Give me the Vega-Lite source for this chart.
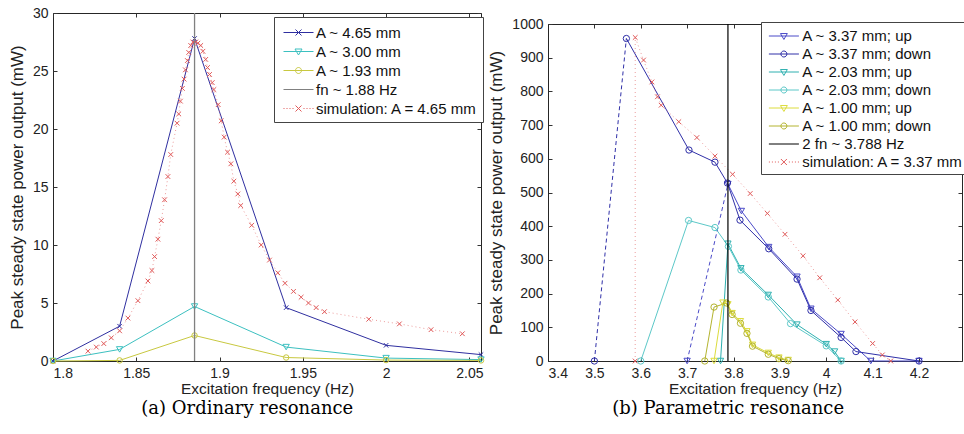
{
  "$schema": "https://vega.github.io/schema/vega-lite/v6.json",
  "background": "white",
  "padding": {"left": 7, "top": 5, "right": 0, "bottom": 0},
  "columns": 2,
  "align": "none",
  "spacing": 0,
  "datasets": {
    "L": [
      {"s": "A ~ 4.65 mm", "f": 1.8, "p": 0},
      {"s": "A ~ 4.65 mm", "f": 1.84, "p": 3.0},
      {"s": "A ~ 4.65 mm", "f": 1.885, "p": 27.8},
      {"s": "A ~ 4.65 mm", "f": 1.94, "p": 4.6},
      {"s": "A ~ 4.65 mm", "f": 2.0, "p": 1.35},
      {"s": "A ~ 4.65 mm", "f": 2.057, "p": 0.55},
      {"s": "A ~ 3.00 mm", "f": 1.8, "p": 0},
      {"s": "A ~ 3.00 mm", "f": 1.84, "p": 1.0},
      {"s": "A ~ 3.00 mm", "f": 1.885, "p": 4.7},
      {"s": "A ~ 3.00 mm", "f": 1.94, "p": 1.2},
      {"s": "A ~ 3.00 mm", "f": 2.0, "p": 0.25},
      {"s": "A ~ 3.00 mm", "f": 2.057, "p": 0.12},
      {"s": "A ~ 1.93 mm", "f": 1.8, "p": 0},
      {"s": "A ~ 1.93 mm", "f": 1.84, "p": 0.05},
      {"s": "A ~ 1.93 mm", "f": 1.885, "p": 2.2},
      {"s": "A ~ 1.93 mm", "f": 1.94, "p": 0.3},
      {"s": "A ~ 1.93 mm", "f": 2.0, "p": 0.08},
      {"s": "A ~ 1.93 mm", "f": 2.057, "p": 0.05}
    ],
    "Ls": [
      {"s": "simulation: A = 4.65 mm", "f": 1.821, "p": 0.85},
      {"s": "simulation: A = 4.65 mm", "f": 1.826, "p": 1.2},
      {"s": "simulation: A = 4.65 mm", "f": 1.8305, "p": 1.5},
      {"s": "simulation: A = 4.65 mm", "f": 1.835, "p": 2.0},
      {"s": "simulation: A = 4.65 mm", "f": 1.84, "p": 2.6},
      {"s": "simulation: A = 4.65 mm", "f": 1.845, "p": 3.7},
      {"s": "simulation: A = 4.65 mm", "f": 1.851, "p": 5.2},
      {"s": "simulation: A = 4.65 mm", "f": 1.857, "p": 6.9},
      {"s": "simulation: A = 4.65 mm", "f": 1.8594, "p": 7.8},
      {"s": "simulation: A = 4.65 mm", "f": 1.861, "p": 9.0},
      {"s": "simulation: A = 4.65 mm", "f": 1.863, "p": 10.5},
      {"s": "simulation: A = 4.65 mm", "f": 1.865, "p": 12.1},
      {"s": "simulation: A = 4.65 mm", "f": 1.867, "p": 13.9},
      {"s": "simulation: A = 4.65 mm", "f": 1.869, "p": 15.9},
      {"s": "simulation: A = 4.65 mm", "f": 1.8707, "p": 17.8},
      {"s": "simulation: A = 4.65 mm", "f": 1.8745, "p": 20.5},
      {"s": "simulation: A = 4.65 mm", "f": 1.8755, "p": 21.3},
      {"s": "simulation: A = 4.65 mm", "f": 1.8765, "p": 22.4},
      {"s": "simulation: A = 4.65 mm", "f": 1.8777, "p": 23.5},
      {"s": "simulation: A = 4.65 mm", "f": 1.8787, "p": 24.3},
      {"s": "simulation: A = 4.65 mm", "f": 1.8795, "p": 25.1},
      {"s": "simulation: A = 4.65 mm", "f": 1.8807, "p": 25.9},
      {"s": "simulation: A = 4.65 mm", "f": 1.8815, "p": 26.6},
      {"s": "simulation: A = 4.65 mm", "f": 1.8827, "p": 27.2},
      {"s": "simulation: A = 4.65 mm", "f": 1.884, "p": 27.5},
      {"s": "simulation: A = 4.65 mm", "f": 1.8857, "p": 27.5},
      {"s": "simulation: A = 4.65 mm", "f": 1.887, "p": 27.4},
      {"s": "simulation: A = 4.65 mm", "f": 1.8887, "p": 27.2},
      {"s": "simulation: A = 4.65 mm", "f": 1.89, "p": 26.7},
      {"s": "simulation: A = 4.65 mm", "f": 1.8917, "p": 26.0},
      {"s": "simulation: A = 4.65 mm", "f": 1.8928, "p": 25.3},
      {"s": "simulation: A = 4.65 mm", "f": 1.894, "p": 24.7},
      {"s": "simulation: A = 4.65 mm", "f": 1.8956, "p": 24.0},
      {"s": "simulation: A = 4.65 mm", "f": 1.8966, "p": 23.4},
      {"s": "simulation: A = 4.65 mm", "f": 1.8992, "p": 22.1},
      {"s": "simulation: A = 4.65 mm", "f": 1.901, "p": 20.7},
      {"s": "simulation: A = 4.65 mm", "f": 1.9028, "p": 19.3},
      {"s": "simulation: A = 4.65 mm", "f": 1.9048, "p": 18.0},
      {"s": "simulation: A = 4.65 mm", "f": 1.9068, "p": 17.0},
      {"s": "simulation: A = 4.65 mm", "f": 1.9086, "p": 15.5},
      {"s": "simulation: A = 4.65 mm", "f": 1.911, "p": 14.4},
      {"s": "simulation: A = 4.65 mm", "f": 1.9127, "p": 13.4},
      {"s": "simulation: A = 4.65 mm", "f": 1.9193, "p": 11.7},
      {"s": "simulation: A = 4.65 mm", "f": 1.925, "p": 10.0},
      {"s": "simulation: A = 4.65 mm", "f": 1.93, "p": 8.7},
      {"s": "simulation: A = 4.65 mm", "f": 1.935, "p": 7.6},
      {"s": "simulation: A = 4.65 mm", "f": 1.9393, "p": 6.7},
      {"s": "simulation: A = 4.65 mm", "f": 1.9444, "p": 6.0},
      {"s": "simulation: A = 4.65 mm", "f": 1.949, "p": 5.5},
      {"s": "simulation: A = 4.65 mm", "f": 1.9534, "p": 5.0},
      {"s": "simulation: A = 4.65 mm", "f": 1.958, "p": 4.6},
      {"s": "simulation: A = 4.65 mm", "f": 1.963, "p": 4.25},
      {"s": "simulation: A = 4.65 mm", "f": 1.9896, "p": 3.6},
      {"s": "simulation: A = 4.65 mm", "f": 2.008, "p": 3.2},
      {"s": "simulation: A = 4.65 mm", "f": 2.027, "p": 2.7},
      {"s": "simulation: A = 4.65 mm", "f": 2.0458, "p": 2.35}
    ],
    "R": [
      {"s": "A ~ 3.37 mm; up", "run": 2, "f": 3.7, "p": 0},
      {"s": "A ~ 3.37 mm; up", "run": 1, "f": 3.788, "p": 525},
      {"s": "A ~ 3.37 mm; up", "run": 1, "f": 3.817, "p": 445},
      {"s": "A ~ 3.37 mm; up", "run": 1, "f": 3.876, "p": 338},
      {"s": "A ~ 3.37 mm; up", "run": 1, "f": 3.937, "p": 250},
      {"s": "A ~ 3.37 mm; up", "run": 1, "f": 3.967, "p": 155},
      {"s": "A ~ 3.37 mm; up", "run": 1, "f": 4.032, "p": 80},
      {"s": "A ~ 3.37 mm; up", "run": 1, "f": 4.096, "p": 0},
      {"s": "A ~ 3.37 mm; up", "run": 1, "f": 4.2, "p": 0},
      {"s": "A ~ 3.37 mm; down", "run": 2, "f": 3.5, "p": 0},
      {"s": "A ~ 3.37 mm; down", "run": 1, "f": 3.569, "p": 957},
      {"s": "A ~ 3.37 mm; down", "run": 1, "f": 3.704, "p": 626},
      {"s": "A ~ 3.37 mm; down", "run": 1, "f": 3.76, "p": 590},
      {"s": "A ~ 3.37 mm; down", "run": 1, "f": 3.787, "p": 528},
      {"s": "A ~ 3.37 mm; down", "run": 1, "f": 3.814, "p": 418},
      {"s": "A ~ 3.37 mm; down", "run": 1, "f": 3.876, "p": 333},
      {"s": "A ~ 3.37 mm; down", "run": 1, "f": 3.937, "p": 243},
      {"s": "A ~ 3.37 mm; down", "run": 1, "f": 3.967, "p": 150},
      {"s": "A ~ 3.37 mm; down", "run": 1, "f": 4.032, "p": 70},
      {"s": "A ~ 3.37 mm; down", "run": 1, "f": 4.064, "p": 28},
      {"s": "A ~ 3.37 mm; down", "run": 1, "f": 4.2, "p": 0},
      {"s": "A ~ 2.03 mm; up", "run": 1, "f": 3.772, "p": 0},
      {"s": "A ~ 2.03 mm; up", "run": 1, "f": 3.788, "p": 348},
      {"s": "A ~ 2.03 mm; up", "run": 1, "f": 3.816, "p": 275},
      {"s": "A ~ 2.03 mm; up", "run": 1, "f": 3.875, "p": 196},
      {"s": "A ~ 2.03 mm; up", "run": 1, "f": 3.937, "p": 108},
      {"s": "A ~ 2.03 mm; up", "run": 1, "f": 4.0, "p": 50},
      {"s": "A ~ 2.03 mm; up", "run": 1, "f": 4.018, "p": 28},
      {"s": "A ~ 2.03 mm; up", "run": 1, "f": 4.032, "p": 0},
      {"s": "A ~ 2.03 mm; down", "run": 1, "f": 3.6, "p": 0},
      {"s": "A ~ 2.03 mm; down", "run": 1, "f": 3.703, "p": 417},
      {"s": "A ~ 2.03 mm; down", "run": 1, "f": 3.76, "p": 396},
      {"s": "A ~ 2.03 mm; down", "run": 1, "f": 3.789, "p": 340},
      {"s": "A ~ 2.03 mm; down", "run": 1, "f": 3.816, "p": 270},
      {"s": "A ~ 2.03 mm; down", "run": 1, "f": 3.875, "p": 190},
      {"s": "A ~ 2.03 mm; down", "run": 1, "f": 3.923, "p": 111},
      {"s": "A ~ 2.03 mm; down", "run": 1, "f": 4.0, "p": 45},
      {"s": "A ~ 2.03 mm; down", "run": 1, "f": 4.032, "p": 0},
      {"s": "A ~ 1.00 mm; up", "run": 1, "f": 3.758, "p": 0},
      {"s": "A ~ 1.00 mm; up", "run": 1, "f": 3.777, "p": 173},
      {"s": "A ~ 1.00 mm; up", "run": 1, "f": 3.788, "p": 168},
      {"s": "A ~ 1.00 mm; up", "run": 1, "f": 3.797, "p": 142},
      {"s": "A ~ 1.00 mm; up", "run": 1, "f": 3.815, "p": 118},
      {"s": "A ~ 1.00 mm; up", "run": 1, "f": 3.829, "p": 88},
      {"s": "A ~ 1.00 mm; up", "run": 1, "f": 3.841, "p": 48},
      {"s": "A ~ 1.00 mm; up", "run": 1, "f": 3.875, "p": 24},
      {"s": "A ~ 1.00 mm; up", "run": 1, "f": 3.898, "p": 10},
      {"s": "A ~ 1.00 mm; up", "run": 1, "f": 3.918, "p": 3},
      {"s": "A ~ 1.00 mm; down", "run": 1, "f": 3.738, "p": 0},
      {"s": "A ~ 1.00 mm; down", "run": 1, "f": 3.758, "p": 160},
      {"s": "A ~ 1.00 mm; down", "run": 1, "f": 3.785, "p": 172},
      {"s": "A ~ 1.00 mm; down", "run": 1, "f": 3.797, "p": 138},
      {"s": "A ~ 1.00 mm; down", "run": 1, "f": 3.815, "p": 112},
      {"s": "A ~ 1.00 mm; down", "run": 1, "f": 3.829, "p": 82},
      {"s": "A ~ 1.00 mm; down", "run": 1, "f": 3.841, "p": 44},
      {"s": "A ~ 1.00 mm; down", "run": 1, "f": 3.875, "p": 20},
      {"s": "A ~ 1.00 mm; down", "run": 1, "f": 3.898, "p": 7},
      {"s": "A ~ 1.00 mm; down", "run": 1, "f": 3.918, "p": 1}
    ],
    "J": [
      {"s": "A ~ 3.37 mm; up", "j": "up", "f": 3.7, "p": 0},
      {"s": "A ~ 3.37 mm; up", "j": "up", "f": 3.788, "p": 525},
      {"s": "A ~ 3.37 mm; down", "j": "down", "f": 3.5, "p": 0},
      {"s": "A ~ 3.37 mm; down", "j": "down", "f": 3.569, "p": 957}
    ],
    "Rs": [
      {"s": "simulation: A = 3.37 mm", "f": 3.588, "p": 0},
      {"s": "simulation: A = 3.37 mm", "f": 3.5881, "p": 960},
      {"s": "simulation: A = 3.37 mm", "f": 3.606, "p": 893},
      {"s": "simulation: A = 3.37 mm", "f": 3.624, "p": 828},
      {"s": "simulation: A = 3.37 mm", "f": 3.636, "p": 784},
      {"s": "simulation: A = 3.37 mm", "f": 3.644, "p": 759},
      {"s": "simulation: A = 3.37 mm", "f": 3.682, "p": 710},
      {"s": "simulation: A = 3.37 mm", "f": 3.721, "p": 663},
      {"s": "simulation: A = 3.37 mm", "f": 3.76, "p": 608},
      {"s": "simulation: A = 3.37 mm", "f": 3.798, "p": 554},
      {"s": "simulation: A = 3.37 mm", "f": 3.836, "p": 497},
      {"s": "simulation: A = 3.37 mm", "f": 3.873, "p": 438},
      {"s": "simulation: A = 3.37 mm", "f": 3.911, "p": 376},
      {"s": "simulation: A = 3.37 mm", "f": 3.95, "p": 312},
      {"s": "simulation: A = 3.37 mm", "f": 3.986, "p": 247},
      {"s": "simulation: A = 3.37 mm", "f": 4.025, "p": 181},
      {"s": "simulation: A = 3.37 mm", "f": 4.062, "p": 116},
      {"s": "simulation: A = 3.37 mm", "f": 4.1, "p": 52},
      {"s": "simulation: A = 3.37 mm", "f": 4.121, "p": 18},
      {"s": "simulation: A = 3.37 mm", "f": 4.139, "p": 0}
    ]
  },
  "concat": [
    {
      "title": {"text": "(a) Ordinary resonance", "orient": "bottom", "frame": "bounds", "font": "DejaVu Serif", "fontSize": 18, "fontWeight": "normal", "color": "#000000", "offset": 3},
      "width": 428,
      "height": 348,
      "resolve": {"axis": {"x": "independent", "y": "independent"}},
      "layer": [
        {
          "data": {"name": "L"},
          "mark": {"type": "line", "strokeWidth": 1},
          "encoding": {
            "x": {"field": "f", "type": "quantitative", "scale": {"domain": [1.8, 2.057], "nice": false, "zero": false}, "axis": {"values": [1.8, 1.85, 1.9, 1.95, 2, 2.05], "format": ".2~f", "title": "Excitation frequency (Hz)"}},
            "y": {"field": "p", "type": "quantitative", "scale": {"domain": [0, 30], "nice": false}, "axis": {"values": [0, 5, 10, 15, 20, 25, 30], "format": "d", "title": "Peak steady state power output (mW)"}},
            "color": {
              "field": "s", "type": "nominal",
              "scale": {"domain": ["A ~ 4.65 mm", "A ~ 3.00 mm", "A ~ 1.93 mm", "fn ~ 1.88 Hz", "simulation: A = 4.65 mm"], "range": ["#2f2fa0", "#3cc0c0", "#c8c840", "#808080", "#e05a5a"]},
              "legend": {
                "title": null, "orient": "none", "legendX": 221, "legendY": 4, "padding": 5,
                "fillColor": "white", "strokeColor": "#444444",
                "labelFont": "Liberation Sans", "labelFontSize": 15, "labelColor": "#111111", "labelLimit": 400,
                "symbolSize": 400, "symbolStrokeWidth": 1, "symbolOffset": 9, "labelOffset": 7, "rowPadding": 0,
                "encode": {"symbols": {"update": {
                  "fill": {"value": "transparent"},
                  "shape": {"signal": "datum.value === 'fn ~ 1.88 Hz' ? 'M-1.5,0H1.5' : datum.value === 'simulation: A = 4.65 mm' ? 'M-1.5,0H-1.4M-1.2,0H-1.1M-0.9,0H-0.8M-0.6,0H-0.5M0.5,0H0.6M0.8,0H0.9M1.1,0H1.2M1.4,0H1.5M-0.3,-0.3L0.3,0.3M-0.3,0.3L0.3,-0.3' : datum.value === 'A ~ 4.65 mm' ? 'M-1.5,0H1.5M-0.3,-0.3L0.3,0.3M-0.3,0.3L0.3,-0.3' : datum.value === 'A ~ 3.00 mm' ? 'M-1.5,0H1.5M-0.35,-0.25H0.35L0,0.35Z' : 'M-1.5,0H1.5M0.3,0A0.3,0.3,0,1,1,-0.3,0A0.3,0.3,0,1,1,0.3,0'"}
                }}}
              }
            }
          }
        },
        {
          "data": {"name": "L"},
          "transform": [{"filter": "datum.s === 'A ~ 4.65 mm'"}],
          "mark": {"type": "point", "shape": "M-1,-1L1,1M-1,1L1,-1", "filled": false, "size": 20, "strokeWidth": 1, "opacity": 1},
          "encoding": {"x": {"field": "f", "type": "quantitative", "axis": null}, "y": {"field": "p", "type": "quantitative", "axis": null}, "color": {"field": "s", "type": "nominal"}}
        },
        {
          "data": {"name": "L"},
          "transform": [{"filter": "datum.s === 'A ~ 3.00 mm'"}],
          "mark": {"type": "point", "shape": "triangle-down", "filled": false, "size": 40, "strokeWidth": 1, "opacity": 1},
          "encoding": {"x": {"field": "f", "type": "quantitative", "axis": null}, "y": {"field": "p", "type": "quantitative", "axis": null}, "color": {"field": "s", "type": "nominal"}}
        },
        {
          "data": {"name": "L"},
          "transform": [{"filter": "datum.s === 'A ~ 1.93 mm'"}],
          "mark": {"type": "point", "shape": "circle", "filled": false, "size": 30, "strokeWidth": 1, "opacity": 1},
          "encoding": {"x": {"field": "f", "type": "quantitative", "axis": null}, "y": {"field": "p", "type": "quantitative", "axis": null}, "color": {"field": "s", "type": "nominal"}}
        },
        {
          "data": {"name": "Ls"},
          "mark": {"type": "line", "strokeWidth": 1, "strokeDash": [1, 3], "opacity": 0.6},
          "encoding": {"x": {"field": "f", "type": "quantitative", "axis": null}, "y": {"field": "p", "type": "quantitative", "axis": {"orient": "right", "values": [0, 5, 10, 15, 20, 25, 30], "labels": false, "title": null}}, "color": {"field": "s", "type": "nominal"}}
        },
        {
          "data": {"name": "Ls"},
          "mark": {"type": "point", "shape": "M-1,-1L1,1M-1,1L1,-1", "filled": false, "size": 22, "strokeWidth": 1, "opacity": 1},
          "encoding": {"x": {"field": "f", "type": "quantitative", "axis": null}, "y": {"field": "p", "type": "quantitative", "axis": null}, "color": {"field": "s", "type": "nominal"}}
        },
        {
          "data": {"values": [{"s": "fn ~ 1.88 Hz", "f": 1.885}]},
          "mark": {"type": "rule", "strokeWidth": 1.3},
          "encoding": {"x": {"field": "f", "type": "quantitative", "axis": {"orient": "top", "values": [1.8, 1.85, 1.9, 1.95, 2, 2.05], "labels": false, "title": null}}, "color": {"field": "s", "type": "nominal"}}
        }
      ]
    },
    {
      "title": {"text": "(b) Parametric resonance", "orient": "bottom", "frame": "bounds", "font": "DejaVu Serif", "fontSize": 18, "fontWeight": "normal", "color": "#000000", "offset": 3},
      "width": 414,
      "height": 348,
      "view": {"stroke": null},
      "resolve": {"axis": {"x": "independent", "y": "independent"}},
      "layer": [
        {
          "data": {"name": "R"},
          "mark": {"type": "line", "strokeWidth": 1},
          "encoding": {
            "x": {"field": "f", "type": "quantitative", "scale": {"domain": [3.4, 4.2927], "nice": false, "zero": false}, "axis": {"values": [3.4, 3.5, 3.6, 3.7, 3.8, 3.9, 4, 4.1, 4.2], "format": ".1~f", "title": "Excitation frequency (Hz)", "domain": true, "domainColor": "#262626"}},
            "y": {"field": "p", "type": "quantitative", "scale": {"domain": [0, 1000], "range": [348, 11], "nice": false}, "axis": {"values": [0, 100, 200, 300, 400, 500, 600, 700, 800, 900, 1000], "format": "d", "title": "Peak steady state power output (mW)", "domain": true, "domainColor": "#262626"}},
            "detail": {"field": "run", "type": "nominal"},
            "color": {
              "field": "s", "type": "nominal",
              "scale": {"domain": ["A ~ 3.37 mm; up", "A ~ 3.37 mm; down", "A ~ 2.03 mm; up", "A ~ 2.03 mm; down", "A ~ 1.00 mm; up", "A ~ 1.00 mm; down", "2 fn ~ 3.788 Hz", "simulation: A = 3.37 mm"], "range": ["#4a4ac8", "#3030a8", "#2eb0b0", "#5cc8c8", "#dcdc3c", "#b4b430", "#000000", "#e05a5a"]},
              "legend": {
                "title": null, "orient": "none", "legendX": 213, "legendY": 9, "padding": 4,
                "fillColor": "white", "strokeColor": "#444444",
                "labelFont": "Liberation Sans", "labelFontSize": 15, "labelColor": "#111111", "labelLimit": 400,
                "symbolSize": 331, "symbolStrokeWidth": 1, "symbolOffset": 8.9, "labelOffset": 8.3, "rowPadding": 0,
                "encode": {"symbols": {"update": {
                  "fill": {"value": "transparent"},
                  "shape": {"signal": "datum.value === '2 fn ~ 3.788 Hz' ? 'M-1.65,0H1.65' : datum.value === 'simulation: A = 3.37 mm' ? 'M-1.65,0H-1.54M-1.32,0H-1.21M-0.99,0H-0.88M-0.66,0H-0.55M0.55,0H0.66M0.88,0H0.99M1.21,0H1.32M1.54,0H1.65M-0.33,-0.33L0.33,0.33M-0.33,0.33L0.33,-0.33' : indexof(datum.value, '; up') >= 0 ? 'M-1.65,0H1.65M-0.38,-0.27H0.38L0,0.38Z' : 'M-1.65,0H1.65M0.33,0A0.33,0.33,0,1,1,-0.33,0A0.33,0.33,0,1,1,0.33,0'"}
                }}}
              }
            }
          }
        },
        {
          "data": {"name": "J"},
          "mark": {"type": "line", "strokeWidth": 1, "strokeDash": [4, 3]},
          "encoding": {"x": {"field": "f", "type": "quantitative", "axis": null}, "y": {"field": "p", "type": "quantitative", "axis": null}, "detail": {"field": "j", "type": "nominal"}, "color": {"field": "s", "type": "nominal"}}
        },
        {
          "data": {"name": "R"},
          "transform": [{"filter": "indexof(datum.s, '; up') >= 0"}],
          "mark": {"type": "point", "shape": "triangle-down", "filled": false, "size": 40, "strokeWidth": 1, "opacity": 1},
          "encoding": {"x": {"field": "f", "type": "quantitative", "axis": null}, "y": {"field": "p", "type": "quantitative", "axis": null}, "color": {"field": "s", "type": "nominal"}}
        },
        {
          "data": {"name": "R"},
          "transform": [{"filter": "indexof(datum.s, '; down') >= 0"}],
          "mark": {"type": "point", "shape": "circle", "filled": false, "size": 40, "strokeWidth": 1, "opacity": 1},
          "encoding": {"x": {"field": "f", "type": "quantitative", "axis": null}, "y": {"field": "p", "type": "quantitative", "axis": null}, "color": {"field": "s", "type": "nominal"}}
        },
        {
          "data": {"name": "Rs"},
          "mark": {"type": "line", "strokeWidth": 1, "strokeDash": [1, 3], "opacity": 0.6},
          "encoding": {"x": {"field": "f", "type": "quantitative", "axis": null}, "y": {"field": "p", "type": "quantitative", "axis": {"orient": "right", "values": [0, 100, 200, 300, 400, 500, 600, 700, 800, 900, 1000], "labels": false, "title": null, "domain": true, "domainColor": "#262626"}}, "color": {"field": "s", "type": "nominal"}}
        },
        {
          "data": {"name": "Rs"},
          "mark": {"type": "point", "shape": "M-1,-1L1,1M-1,1L1,-1", "filled": false, "size": 22, "strokeWidth": 1, "opacity": 1},
          "encoding": {"x": {"field": "f", "type": "quantitative", "axis": null}, "y": {"field": "p", "type": "quantitative", "axis": null}, "color": {"field": "s", "type": "nominal"}}
        },
        {
          "data": {"values": [{"s": "2 fn ~ 3.788 Hz", "f": 3.788}]},
          "mark": {"type": "rule", "strokeWidth": 1.2},
          "encoding": {"x": {"field": "f", "type": "quantitative", "axis": {"orient": "top", "offset": -11, "values": [3.4, 3.5, 3.6, 3.7, 3.8, 3.9, 4, 4.1, 4.2], "labels": false, "title": null, "domain": true, "domainColor": "#262626"}}, "y": {"datum": 0, "type": "quantitative", "axis": null}, "y2": {"datum": 1000}, "color": {"field": "s", "type": "nominal"}}
        }
      ]
    }
  ],
  "resolve": {"scale": {"color": "independent"}, "legend": {"color": "independent"}},
  "config": {
    "view": {"stroke": "#262626", "strokeWidth": 1},
    "axis": {
      "grid": false,
      "domain": false,
      "ticks": true,
      "tickSize": -4,
      "tickColor": "#333333",
      "labelPadding": 9,
      "labelFont": "Liberation Sans",
      "labelFontSize": 14,
      "labelColor": "#222222",
      "titleFont": "Liberation Sans",
      "titleFontSize": 17,
      "titleFontWeight": "normal",
      "titleColor": "#222222"
    },
    "axisX": {"titlePadding": 1, "titleFontSize": 15.5},
    "axisY": {"titlePadding": 6}
  }
}
